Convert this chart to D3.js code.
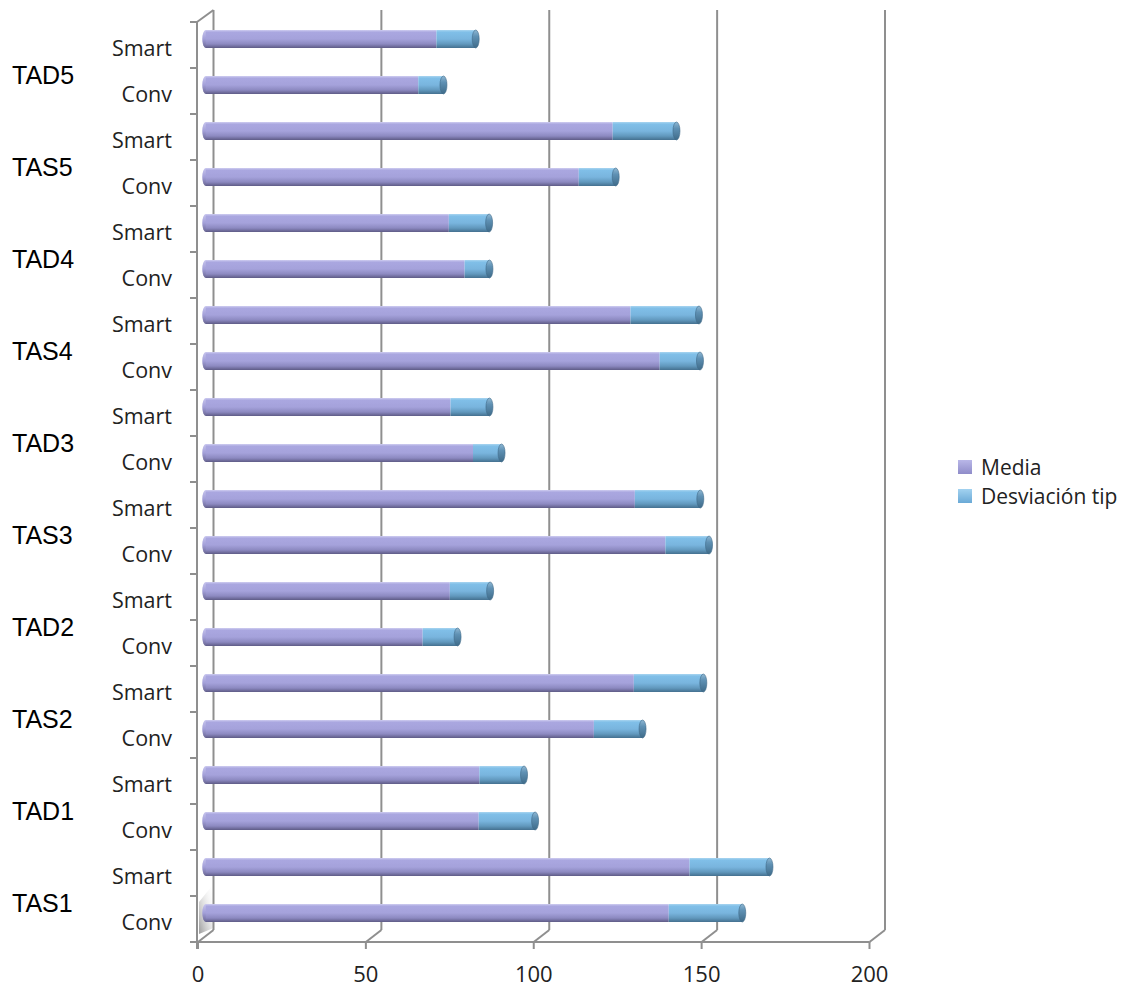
<!DOCTYPE html>
<html>
<head>
<meta charset="utf-8">
<script src="https://cdn.jsdelivr.net/npm/d3@7/dist/d3.min.js"></script>
<style>
  html, body { margin: 0; padding: 0; background: #fff; }
  svg { display: block; }
</style>
</head>
<body>
<svg id="chart" width="1135" height="989"></svg>
<script>
// Groups (bottom to top) and the two measurements inside each group
const categories = ["TAS1", "TAD1", "TAS2", "TAD2", "TAS3", "TAD3", "TAS4", "TAD4", "TAS5", "TAD5"];
const subgroups = ["Conv", "Smart"];

// Values per bar, ordered TAS1 Conv, TAS1 Smart, TAD1 Conv, TAD1 Smart, ...
const media = [137.9, 144.1, 81.3, 81.5, 115.6, 127.5, 64.6, 72.7, 136.9, 127.8,
               79.6, 72.9, 135.2, 126.5, 77.1, 72.4, 111.1, 121.2, 63.3, 68.7];
const desviacion = [21.9, 23.8, 16.8, 13.3, 14.5, 20.7, 10.4, 12.0, 13.0, 19.5,
                    8.5, 11.6, 12.0, 20.4, 7.4, 12.0, 11.0, 19.0, 7.5, 11.7];

const xTicks = [0, 50, 100, 150, 200];
const seriesNames = ["Media", "Desviación tip"];

const svg = d3.select("#chart");
const defs = svg.append("defs");

// Box geometry: front plane and depth offset of the back wall
const front = { left: 198, right: 869.5, top: 22, bottom: 942 };
const depth = { dx: 15.5, dy: -12 };
const mid = { dx: depth.dx / 2, dy: depth.dy / 2 };

const rows = [];
categories.forEach((c, i) => subgroups.forEach((s, j) => {
  const k = i * 2 + j;
  rows.push({ key: c + "|" + s, cat: c, sub: s, media: media[k], sd: desviacion[k] });
}));

const x = d3.scaleLinear().domain([0, 200]).range([front.left, front.right]);
const y = d3.scaleBand()
  .domain(rows.map(d => d.key).reverse())
  .range([front.top, front.bottom]);

// Gradients for the cylinders
function vGrad(id, stops) {
  const g = defs.append("linearGradient").attr("id", id)
    .attr("x1", 0).attr("y1", 0).attr("x2", 0).attr("y2", 1);
  stops.forEach(s => g.append("stop").attr("offset", s[0]).attr("stop-color", s[1]));
}
vGrad("gMedia", [[0, "#cfcdf0"], [0.12, "#aaa7e0"], [0.5, "#a5a2db"], [0.78, "#8c89c0"], [1, "#5e5b86"]]);
vGrad("gDesv", [[0, "#a9d5f0"], [0.12, "#80bfe8"], [0.5, "#79b5de"], [0.78, "#6198bd"], [1, "#44708f"]]);
vGrad("gCap", [[0, "#8fb8d4"], [0.35, "#5f91b4"], [1, "#3f6b89"]]);
vGrad("gCapL", [[0, "#c8c6ee"], [0.5, "#a29fd8"], [1, "#6a6794"]]);
vGrad("gLegM", [[0, "#b9b7e8"], [1, "#8f8cc9"]]);
vGrad("gLegD", [[0, "#a2d2f0"], [1, "#6aa9d6"]]);
const shade = defs.append("linearGradient").attr("id", "gShade")
  .attr("x1", 0).attr("y1", 1).attr("x2", 1).attr("y2", 0);
shade.append("stop").attr("offset", 0).attr("stop-color", "#9a9a9a");
shade.append("stop").attr("offset", 1).attr("stop-color", "#ffffff").attr("stop-opacity", 0);

const gridColor = "#8f8f8f";

// Shading on the lower part of the left wall
svg.append("polygon")
  .attr("points", [
    [front.left + 1, front.bottom - 8],
    [front.left + 1, front.bottom - 40],
    [front.left + depth.dx, front.bottom - 58],
    [front.left + depth.dx, front.bottom + depth.dy - 2]
  ].map(p => p.join(",")).join(" "))
  .attr("fill", "url(#gShade)");

// Back wall gridlines
svg.append("g").selectAll("line").data(xTicks).join("line")
  .attr("x1", d => x(d) + depth.dx).attr("x2", d => x(d) + depth.dx)
  .attr("y1", front.top + depth.dy).attr("y2", front.bottom + depth.dy)
  .attr("stroke", gridColor).attr("stroke-width", 2);

// Floor edges from the front axis to the back wall
svg.append("g").selectAll("line").data(xTicks).join("line")
  .attr("x1", d => x(d)).attr("y1", front.bottom)
  .attr("x2", d => x(d) + depth.dx).attr("y2", front.bottom + depth.dy)
  .attr("stroke", gridColor).attr("stroke-width", 2);

// Left wall top edge
svg.append("line")
  .attr("x1", front.left - 1).attr("y1", front.top)
  .attr("x2", front.left + depth.dx).attr("y2", front.top + depth.dy)
  .attr("stroke", gridColor).attr("stroke-width", 2);

// Front vertical axis and its ticks at band boundaries
svg.append("line")
  .attr("x1", front.left - 1).attr("x2", front.left - 1)
  .attr("y1", front.top).attr("y2", front.bottom + 7)
  .attr("stroke", gridColor).attr("stroke-width", 2);
const boundaries = y.domain().map(k => y(k)).concat([y(y.domain()[y.domain().length - 1]) + y.bandwidth()]);
svg.append("g").selectAll("line").data(boundaries).join("line")
  .attr("x1", front.left - 8).attr("x2", front.left - 1)
  .attr("y1", d => d).attr("y2", d => d)
  .attr("stroke", gridColor).attr("stroke-width", 2);

// Front horizontal axis
svg.append("line")
  .attr("x1", front.left - 8).attr("x2", front.right)
  .attr("y1", front.bottom).attr("y2", front.bottom)
  .attr("stroke", gridColor).attr("stroke-width", 2);
svg.append("g").selectAll("line").data(xTicks).join("line")
  .attr("x1", d => x(d)).attr("x2", d => x(d))
  .attr("y1", front.bottom).attr("y2", front.bottom + 7)
  .attr("stroke", gridColor).attr("stroke-width", 2);
svg.append("g").selectAll("text").data(xTicks).join("text")
  .attr("x", d => x(d)).attr("y", front.bottom + 40)
  .attr("text-anchor", "middle")
  .attr("font-family", "'Open Sans', sans-serif").attr("font-size", 22)
  .attr("fill", "#222")
  .text(d => d);

// Cylinder bars, drawn at mid depth
const barH = 18;
const capRx = 3.5;
const bars = svg.append("g").selectAll("g").data(rows).join("g")
  .attr("transform", d => `translate(${mid.dx},${y(d.key) + y.bandwidth() / 2 + mid.dy})`);

bars.append("ellipse")
  .attr("cx", x(0)).attr("cy", 0).attr("rx", capRx).attr("ry", barH / 2)
  .attr("fill", "url(#gCapL)");
bars.append("rect")
  .attr("x", x(0)).attr("y", -barH / 2)
  .attr("width", d => x(d.media) - x(0)).attr("height", barH)
  .attr("fill", "url(#gMedia)");
bars.append("rect")
  .attr("x", d => x(d.media)).attr("y", -barH / 2)
  .attr("width", d => x(d.media + d.sd) - x(d.media)).attr("height", barH)
  .attr("fill", "url(#gDesv)");
bars.append("ellipse")
  .attr("cx", d => x(d.media + d.sd)).attr("cy", 0)
  .attr("rx", capRx).attr("ry", barH / 2)
  .attr("fill", "url(#gCap)")
  .attr("stroke", "#3f6a88").attr("stroke-width", 0.6);

// Subgroup labels
svg.append("g").selectAll("text").data(rows).join("text")
  .attr("x", 172)
  .attr("y", d => y(d.key) + y.bandwidth() / 2 + 2)
  .attr("dominant-baseline", "central")
  .attr("text-anchor", "end")
  .attr("font-family", "'Open Sans', sans-serif").attr("font-size", 21.5)
  .attr("fill", "#222")
  .text(d => d.sub);

// Group labels, centred between their two bars
svg.append("g").selectAll("text").data(categories).join("text")
  .attr("x", 12)
  .attr("y", c => y(c + "|Smart") + y.bandwidth() + 7)
  .attr("dominant-baseline", "central")
  .attr("font-family", "'Liberation Sans', Arial, sans-serif").attr("font-size", 25)
  .attr("fill", "#000")
  .text(c => c);

// Legend
const legend = svg.append("g").selectAll("g").data(seriesNames).join("g")
  .attr("transform", (d, i) => `translate(958,${467 + i * 29})`);
legend.append("rect")
  .attr("x", 0).attr("y", -7).attr("width", 14).attr("height", 14)
  .attr("fill", (d, i) => i === 0 ? "url(#gLegM)" : "url(#gLegD)");
legend.append("text")
  .attr("x", 23).attr("y", 0)
  .attr("dominant-baseline", "central")
  .attr("font-family", "'Open Sans', sans-serif").attr("font-size", 21)
  .attr("fill", "#222")
  .text(d => d);
</script>
</body>
</html>
